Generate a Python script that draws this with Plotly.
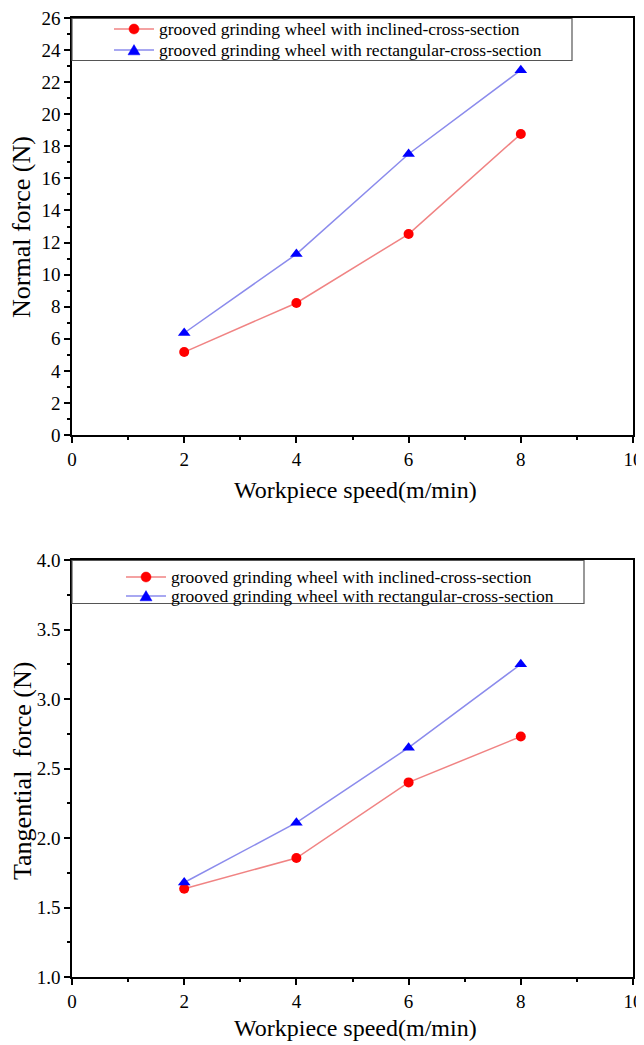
import plotly.graph_objects as go

speed = [2, 4, 6, 8]
normal_inclined = [5.17, 8.23, 12.53, 18.77]
normal_rect = [6.36, 11.28, 17.52, 22.75]
tang_inclined = [1.635, 1.856, 2.40, 2.73]
tang_rect = [1.68, 2.11, 2.65, 3.25]
name_inc = "grooved grinding wheel with inclined-cross-section"
name_rect = "grooved grinding wheel with rectangular-cross-section"

OFF = 8  # default page body margin
W, H = 644 - OFF, 1045 - OFF
FONT = "Liberation Serif"

RED_LINE = "rgba(235,90,90,0.75)"
BLUE_LINE = "rgba(100,100,230,0.75)"
RED = "#ff0000"
BLUE = "#0000ff"

def fx(px):
    return (px - OFF) / W

def fy(py):
    return 1 - (py - OFF) / H

fig = go.Figure()

def add_pair(xa, ya, inc, rect):
    fig.add_trace(go.Scatter(x=speed, y=inc, name=name_inc, mode="lines+markers",
                             line=dict(color=RED_LINE, width=1.5),
                             marker=dict(color=RED, size=10, symbol="circle"),
                             xaxis=xa, yaxis=ya, showlegend=False))
    fig.add_trace(go.Scatter(x=speed, y=rect, name=name_rect, mode="lines+markers",
                             line=dict(color=BLUE_LINE, width=1.5),
                             marker=dict(color=BLUE, size=11, symbol="triangle-up"),
                             xaxis=xa, yaxis=ya, showlegend=False))

add_pair("x", "y", normal_inclined, normal_rect)
add_pair("x2", "y2", tang_inclined, tang_rect)

minor_common = dict(ticks="outside", ticklen=3, tickcolor="black", tickwidth=1.5)
axis_common = dict(showline=True, linecolor="black", linewidth=1.5, mirror=True,
                   ticks="outside", ticklen=6, tickwidth=1.5, tickcolor="black",
                   showgrid=False, zeroline=False, automargin=False,
                   ticklabeloverflow="allow",
                   tickfont=dict(family=FONT, size=19, color="black"))

xdom = [fx(72), fx(633)]
fig.update_layout(
    width=W, height=H,
    margin=dict(l=0, r=0, t=0, b=0, autoexpand=False),
    paper_bgcolor="white", plot_bgcolor="white",
    font=dict(family=FONT, color="black"),
    showlegend=False,
    xaxis=dict(domain=xdom, range=[0, 10], dtick=2, anchor="y",
               minor=dict(dtick=1, **minor_common), **axis_common),
    yaxis=dict(domain=[fy(435), fy(18)], range=[0, 26], dtick=2, anchor="x",
               minor=dict(dtick=1, **minor_common), **axis_common),
    xaxis2=dict(domain=xdom, range=[0, 10], dtick=2, anchor="y2",
                minor=dict(dtick=1, **minor_common), **axis_common),
    yaxis2=dict(domain=[fy(977), fy(560)], range=[1.0, 4.0], dtick=0.5, tickformat=".1f",
                anchor="x2", minor=dict(dtick=0.25, **minor_common), **axis_common),
)

# manual legends (box, sample lines, symbols, labels)
def legend_box(x0, y0, x1, y1, lx0, lx1, tx, rows):
    fig.add_shape(type="rect", xref="paper", yref="paper",
                  x0=fx(x0), x1=fx(x1), y0=fy(y1), y1=fy(y0),
                  line=dict(color="#555555", width=1.2), fillcolor="white")
    mx = (lx0 + lx1) / 2
    for (ry, name, lcol, mcol, sym) in rows:
        fig.add_shape(type="line", xref="paper", yref="paper",
                      x0=fx(lx0), x1=fx(lx1), y0=fy(ry), y1=fy(ry),
                      line=dict(color=lcol, width=1.5))
        if sym == "circle":
            r = 5
            fig.add_shape(type="circle", xref="paper", yref="paper",
                          x0=fx(mx - r), x1=fx(mx + r), y0=fy(ry + r), y1=fy(ry - r),
                          line=dict(color=mcol, width=0.5), fillcolor=mcol)
        else:
            s = 6
            path = "M {} {} L {} {} L {} {} Z".format(
                fx(mx - s), fy(ry + s * 0.8), fx(mx + s), fy(ry + s * 0.8), fx(mx), fy(ry - s * 0.9))
            fig.add_shape(type="path", xref="paper", yref="paper", path=path,
                          line=dict(color=mcol, width=0.5), fillcolor=mcol)
        fig.add_annotation(text=name, x=fx(tx), y=fy(ry), xref="paper", yref="paper",
                           xanchor="left", yanchor="middle", showarrow=False,
                           font=dict(family=FONT, size=17.5, color="black"))

legend_box(72, 18.5, 572, 60.5, 114, 154, 157,
           [(29, name_inc, RED_LINE, RED, "circle"), (50, name_rect, BLUE_LINE, BLUE, "triangle")])
legend_box(72, 560.5, 584, 603.5, 126, 166, 169,
           [(577, name_inc, RED_LINE, RED, "circle"), (596, name_rect, BLUE_LINE, BLUE, "triangle")])

xt_font = dict(family=FONT, size=24, color="black")
yt_font = dict(family=FONT, size=26, color="black")
for yy in (490, 1028):
    fig.add_annotation(text="Workpiece speed(m/min)", x=fx(355), y=fy(yy), xref="paper", yref="paper",
                       xanchor="center", yanchor="middle", showarrow=False, font=xt_font)
fig.add_annotation(text="Normal force (N)", x=fx(22), y=fy(227), xref="paper", yref="paper",
                   xanchor="center", yanchor="middle", showarrow=False, textangle=-90, font=yt_font)
fig.add_annotation(text="Tangential  force (N)", x=fx(22), y=fy(771), xref="paper", yref="paper",
                   xanchor="center", yanchor="middle", showarrow=False, textangle=-90, font=yt_font)

fig.write_html("out.html")
